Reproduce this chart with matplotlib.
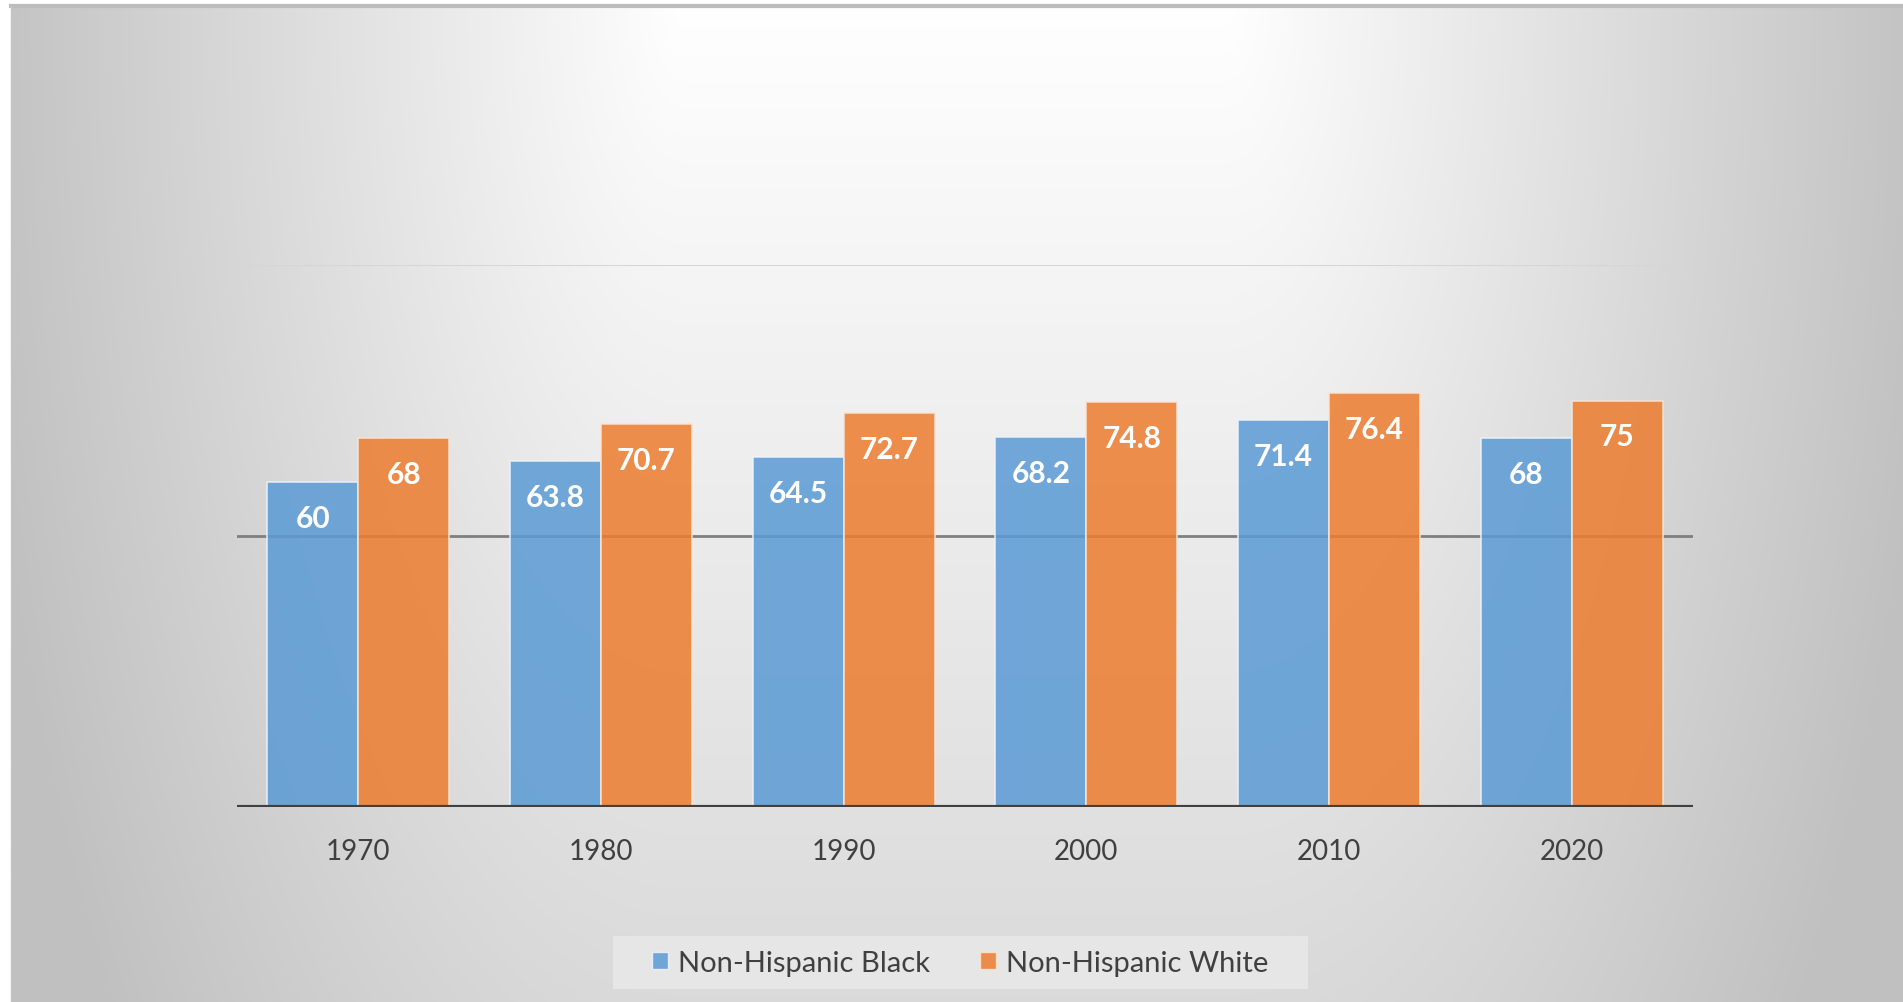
import numpy as np
import matplotlib
matplotlib.use("Agg")
import matplotlib.pyplot as plt
from matplotlib.lines import Line2D
from matplotlib.patches import Patch, Rectangle

# ---- data ----
years = ["1970", "1980", "1990", "2000", "2010", "2020"]
series_names = ["Non-Hispanic Black", "Non-Hispanic White"]
black = [60, 63.8, 64.5, 68.2, 71.4, 68]
white = [68, 70.7, 72.7, 74.8, 76.4, 75]

plt.rcParams['font.family'] = ['Lato', 'DejaVu Sans']

W, H = 1903, 1003
fig = plt.figure(figsize=(W / 100, H / 100), dpi=100)
fig.patch.set_facecolor("white")

# ---- background gradient ----
bx0, by_top = 11, 7
bg = fig.add_axes([bx0 / W, 0, 1 - bx0 / W, (H - by_top) / H])
bg.set_axis_off()
gw, gh = 480, 250
xx, yy = np.meshgrid(np.linspace(bx0, W, gw), np.linspace(by_top, H, gh))
fx = np.clip(0.0868 * (np.abs(xx - 955) - 270), 0, None)
fy = 0.037 * yy
dark = np.sqrt(fx ** 2 + fy ** 2)
val = np.clip(255 - dark, 192, 255) / 255.0
img = np.dstack([val, val, val])
bg.imshow(img, aspect="auto", extent=[0, 1, 0, 1], interpolation="bilinear")
bg.set_xlim(0, 1)
bg.set_ylim(0, 1)
fig.add_artist(Line2D([bx0 / W, 1], [1 - by_top / H] * 2, transform=fig.transFigure,
                      color="#bdbdbd", lw=3))
fig.add_artist(Line2D([bx0 / W] * 2, [0, 1 - by_top / H], transform=fig.transFigure,
                      color="#c4c4c4", lw=1))

# ---- main axes ----
left, right, bottom_px, top_px = 237, 1693, 808, 266
ax = fig.add_axes([left / W, (H - bottom_px) / H, (right - left) / W, (bottom_px - top_px) / H])
ax.patch.set_alpha(0)
for s in ax.spines.values():
    s.set_visible(False)

x = np.arange(len(years))
bw = 0.375
blue = "#5B9BD5"
orange = "#ED7D31"

ax.axhline(100, color="#d6d6d6", lw=1.5, zorder=1)
ax.axhline(50, color="#7f7f7f", lw=2, zorder=1)

b1 = ax.bar(x - bw / 2, black, bw, color=blue, alpha=0.86, edgecolor="#eef4fa", lw=1.2, zorder=2)
b2 = ax.bar(x + bw / 2, white, bw, color=orange, alpha=0.86, edgecolor="#fbe4d4", lw=1.2, zorder=2)

ax.axhline(0, color="#404040", lw=3, zorder=4)

for bars, vals in ((b1, black), (b2, white)):
    for rect, v in zip(bars, vals):
        ax.annotate(f"{v:g}", (rect.get_x() + rect.get_width() / 2, v),
                    xytext=(0, -36), textcoords="offset pixels",
                    ha="center", va="center", color="white",
                    fontsize=21.5, fontweight="bold", zorder=5)

ax.set_xlim(-0.5, len(years) - 0.5)
ax.set_ylim(0, 100)
ax.set_xticks(x)
ax.set_xticklabels(years, fontsize=20, color="#404040")
ax.tick_params(axis="x", length=0, pad=22)
ax.set_yticks([])

# legend box
fig.add_artist(Rectangle((613 / W, 1 - 990 / H), (1308 - 613) / W, (990 - 937) / H,
                         transform=fig.transFigure, facecolor="#e8e8e8",
                         edgecolor="none", alpha=0.9, zorder=3))
handles = [Patch(facecolor=blue, alpha=0.86, edgecolor="#eef4fa"),
           Patch(facecolor=orange, alpha=0.86, edgecolor="#fbe4d4")]
leg = fig.legend(handles, series_names, loc="center",
                 bbox_to_anchor=(960 / W, 1 - 964 / H), ncol=2,
                 fontsize=21, frameon=False,
                 handlelength=0.55, handleheight=0.55, handletextpad=0.35,
                 columnspacing=1.7, borderpad=0, borderaxespad=0)
leg.set_zorder(4)
for t in leg.get_texts():
    t.set_color("#404040")

fig.savefig("out.png", dpi=100)
